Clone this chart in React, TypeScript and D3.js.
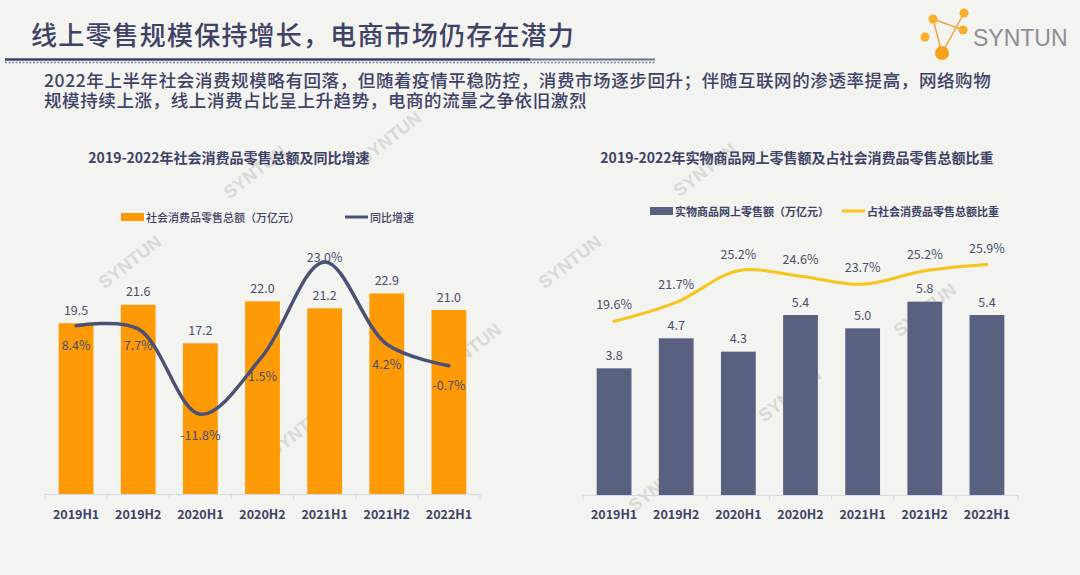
import React from "react";
import * as d3 from "d3";

const categories = ["2019H1", "2019H2", "2020H1", "2020H2", "2021H1", "2021H2", "2022H1"];
const retailTotal = [19.5, 21.6, 17.2, 22.0, 21.2, 22.9, 21.0];
const retailGrowth = [8.4, 7.7, -11.8, 1.5, 23.0, 4.2, -0.7];
const onlineSales = [3.8, 4.7, 4.3, 5.4, 5.0, 5.8, 5.4];
const onlineShare = [19.6, 21.7, 25.2, 24.6, 23.7, 25.2, 25.9];

const pageTitle = "线上零售规模保持增长，电商市场仍存在潜力";
const subtitleLines = [
  "2022年上半年社会消费规模略有回落，但随着疫情平稳防控，消费市场逐步回升；伴随互联网的渗透率提高，网络购物",
  "规模持续上涨，线上消费占比呈上升趋势，电商的流量之争依旧激烈",
];
const leftTitle = "2019-2022年社会消费品零售总额及同比增速";
const rightTitle = "2019-2022年实物商品网上零售额及占社会消费品零售总额比重";
const leftLegend = ["社会消费品零售总额（万亿元）", "同比增速"];
const rightLegend = ["实物商品网上零售额（万亿元）", "占社会消费品零售总额比重"];

const FONT = "'Noto Sans CJK SC', 'Noto Sans', sans-serif";
const NAVY = "#3d4266";
const ORANGE = "#fe9a05";
const SLATE = "#5a607f";
const YELLOW = "#f8c51c";
const LINE_DARK = "#4b5175";
const BG = "#f3f3ef";

const watermarks = [
  [255, 172], [130, 262], [300, 430], [570, 262], [705, 170], [790, 395],
  [925, 310], [660, 485], [470, 350], [390, 138],
];

function Chart(props: {
  x0: number; x1: number; baseline: number; top: number;
  bars: number[]; barDomain: [number, number]; barColor: string;
  line: number[]; lineDomain: [number, number]; lineColor: string; lineWidth: number;
  lineLabelOffsets: number[];
  title: string; titleX: number;
  legend: string[]; legendY: number; legendX: [number, number]; legendWeight: number;
}) {
  const x = d3.scaleBand<string>().domain(categories).range([props.x0, props.x1]).paddingInner(0.44).paddingOuter(0.22);
  const band = d3.scaleBand<string>().domain(categories).range([props.x0, props.x1]);
  const yb = d3.scaleLinear().domain(props.barDomain).range([props.baseline, props.top]);
  const yl = d3.scaleLinear().domain(props.lineDomain).range([props.baseline, props.top]);
  const cx = (c: string) => (band(c) as number) + band.bandwidth() / 2;
  const lineGen = d3.line<number>()
    .x((_, i) => cx(categories[i]))
    .y((d) => yl(d))
    .curve(d3.curveCatmullRom.alpha(0.5));
  const boundaries = d3.range(categories.length + 1).map((i) => props.x0 + i * band.step());
  const [lx1, lx2] = props.legendX;
  return (
    <g>
      <text x={props.titleX} y={157} textAnchor="middle" dominantBaseline="central"
        fontFamily={FONT} fontSize={14} fontWeight={700} fill={NAVY}>{props.title}</text>
      {/* legend */}
      <rect x={lx1} y={props.legendY - 4} width={23} height={8} fill={props.barColor} />
      <text x={lx1 + 25} y={props.legendY} dominantBaseline="central" fontFamily={FONT}
        fontSize={11} fontWeight={props.legendWeight} fill={NAVY}>{props.legend[0]}</text>
      <line x1={lx2} x2={lx2 + 23} y1={props.legendY} y2={props.legendY} stroke={props.lineColor} strokeWidth={3} />
      <text x={lx2 + 25} y={props.legendY} dominantBaseline="central" fontFamily={FONT}
        fontSize={11} fontWeight={props.legendWeight} fill={NAVY}>{props.legend[1]}</text>
      {/* bars */}
      {props.bars.map((v, i) => (
        <rect key={"b" + i} x={x(categories[i])} y={yb(v)} width={x.bandwidth()}
          height={props.baseline - yb(v)} fill={props.barColor} />
      ))}
      {props.bars.map((v, i) => (
        <text key={"bl" + i} x={cx(categories[i])} y={yb(v) - 14} textAnchor="middle"
          dominantBaseline="central" fontFamily={FONT} fontSize={12.5} fill="#4a4f6e">{v.toFixed(1)}</text>
      ))}
      {/* axis */}
      <line x1={props.x0} x2={props.x1} y1={props.baseline + 0.5} y2={props.baseline + 0.5} stroke="#d6d8e4" strokeWidth={1.2} />
      {boundaries.map((bx, i) => (
        <line key={"t" + i} x1={bx} x2={bx} y1={props.baseline} y2={props.baseline + 5} stroke="#d6d8e4" strokeWidth={1} />
      ))}
      {categories.map((c) => (
        <text key={c} x={cx(c)} y={513} textAnchor="middle" dominantBaseline="central"
          fontFamily={FONT} fontSize={12.5} fontWeight={700} fill={NAVY}>{c}</text>
      ))}
      {/* line */}
      <path d={lineGen(props.line) || ""} fill="none" stroke={props.lineColor} strokeWidth={props.lineWidth} strokeLinecap="round" />
      {props.line.map((v, i) => (
        <text key={"ll" + i} x={cx(categories[i])} y={yl(v) + props.lineLabelOffsets[i]} textAnchor="middle"
          dominantBaseline="central" fontFamily={FONT} fontSize={12.5} fill="#4a4f6e">{v.toFixed(1) + "%"}</text>
      ))}
    </g>
  );
}

function Logo() {
  const nodes: [number, number, number][] = [[933, 19, 4.5], [964, 13, 4.5], [963, 30, 4.5], [925, 37, 4.5], [942, 53, 7]];
  return (
    <g>
      <line x1={933} y1={19} x2={963} y2={30} stroke="#f2a640" strokeWidth={1.5} />
      <line x1={964} y1={13} x2={942} y2={53} stroke="#f2a640" strokeWidth={1.5} />
      <line x1={933} y1={19} x2={942} y2={53} stroke="#f2a640" strokeWidth={1.5} />
      {nodes.map((n, i) => (
        <circle key={i} cx={n[0]} cy={n[1]} r={n[2]} fill={i === 4 ? "#f7a21b" : "#f9ae2a"} />
      ))}
      <text x={973} y={38} dominantBaseline="central" fontFamily="'Liberation Sans', Arial, sans-serif"
        fontSize={23} fill="#8c8e98">SYNTUN</text>
    </g>
  );
}

export default function App() {
  return (
    <svg width={1080} height={575} style={{ position: "absolute", left: 0, top: 0, display: "block" }}>
      <rect x={0} y={0} width={1080} height={575} fill={BG} />
      {watermarks.map((w, i) => (
        <text key={"w" + i} x={w[0]} y={w[1]} textAnchor="middle" dominantBaseline="central"
          transform={`rotate(-38 ${w[0]} ${w[1]})`} fontFamily="'Liberation Sans', Arial, sans-serif"
          fontSize={18} fontWeight={700} fill="#d9d9d6">SYNTUN</text>
      ))}
      <text x={31} y={33} dominantBaseline="central" fontFamily={FONT} fontSize={26} fontWeight={500}
        letterSpacing={1.2} fill={NAVY}>{pageTitle}</text>
      <line x1={5} x2={530} y1={59.5} y2={59.5} stroke={NAVY} strokeWidth={2.5} />
      <line x1={5} x2={655} y1={62.5} y2={62.5} stroke="#7e84a8" strokeWidth={1.5} strokeDasharray="2,1.5" />
      <line x1={530} x2={655} y1={59.5} y2={59.5} stroke="#6a7096" strokeWidth={2} />
      <text fontFamily={FONT} fontSize={17.5} fontWeight={500} letterSpacing={0.6} fill={NAVY}>
        {subtitleLines.map((s, i) => (
          <tspan key={"s" + i} x={44} y={87 + i * 20}>{s}</tspan>
        ))}
      </text>
      <Logo />
      <Chart x0={45} x1={480} baseline={494} top={240}
        bars={retailTotal} barDomain={[0, 29]} barColor={ORANGE}
        line={retailGrowth} lineDomain={[-30, 28]} lineColor={LINE_DARK} lineWidth={3.5}
        lineLabelOffsets={[19, 16, 20, 19, -5, 19, 19]}
        title={leftTitle} titleX={229}
        legend={leftLegend} legendY={217} legendX={[121, 345]} legendWeight={500} />
      <Chart x0={583} x1={1018} baseline={495} top={240}
        bars={onlineSales} barDomain={[0, 7.65]} barColor={SLATE}
        line={onlineShare} lineDomain={[0.4, 28.6]} lineColor={YELLOW} lineWidth={3}
        lineLabelOffsets={[-18, -19, -17, -18, -18, -17, -17]}
        title={rightTitle} titleX={797}
        legend={rightLegend} legendY={211} legendX={[650, 842]} legendWeight={700} />
    </svg>
  );
}
